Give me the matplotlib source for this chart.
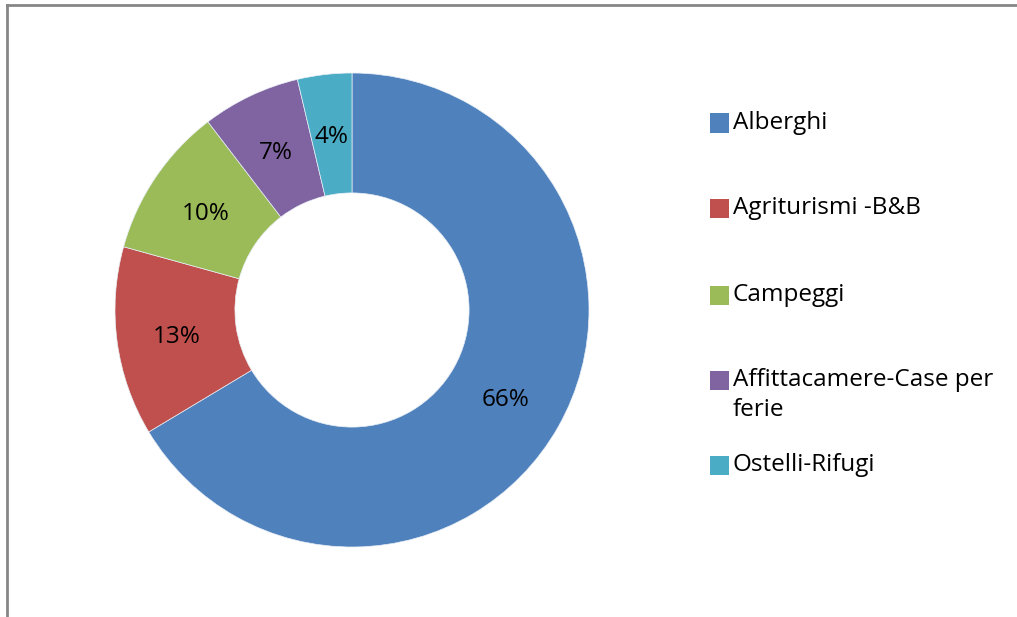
import matplotlib.pyplot as plt
from matplotlib.patches import Rectangle

# dati (quota percentuale per tipo di struttura)
categorie = ["Alberghi", "Agriturismi -B&B", "Campeggi",
             "Affittacamere-Case per\nferie", "Ostelli-Rifugi"]
valori = [66.4, 12.9, 10.3, 6.7, 3.7]
colori = ["#4F81BD", "#C0504D", "#9BBB59", "#8064A2", "#4BACC6"]

plt.rcParams['font.family'] = ['Open Sans', 'DejaVu Sans']

W, H = 1017, 617
fig = plt.figure(figsize=(W / 100, H / 100), dpi=100)
# centro ~ (352,310) px, raggio ~ 237 px
ax = fig.add_axes([115 / W, (H - 310 - 237) / H, 474 / W, 474 / H])

wedges, texts, autotexts = ax.pie(
    valori, colors=colori, startangle=90, counterclock=False,
    radius=1.0, autopct='%.0f%%', pctdistance=0.747,
    wedgeprops=dict(width=0.506, edgecolor='#e8eef5', linewidth=0.5),
    textprops=dict(fontsize=17.5, color='black'))
for t in autotexts:
    t.set_va('center_baseline')
ax.set_xlim(-1, 1)
ax.set_ylim(-1, 1)
ax.set_aspect('equal')

# legenda a destra (posizioni in pixel della prima riga di ogni voce)
righe_y = [123, 208, 295, 380, 465]
for nome, col, y in zip(categorie, colori, righe_y):
    fig.add_artist(Rectangle((710 / W, (H - y - 9.5) / H), 19 / W, 19 / H,
                             transform=fig.transFigure, facecolor=col, edgecolor='none'))
    for k, riga in enumerate(nome.split("\n")):
        fig.text(733 / W, (H - y - 30 * k) / H, riga, fontsize=17.5,
                 va='center', ha='left', color='black')

# bordo del riquadro (visibile solo in alto e a sinistra)
fig.add_artist(plt.Line2D([7 / W, 7 / W], [0, (H - 5) / H], transform=fig.transFigure,
                          color='#868686', linewidth=2))
fig.add_artist(plt.Line2D([7 / W, 1.0], [(H - 5) / H, (H - 5) / H], transform=fig.transFigure,
                          color='#868686', linewidth=2))

fig.savefig("out.png", dpi=100)
